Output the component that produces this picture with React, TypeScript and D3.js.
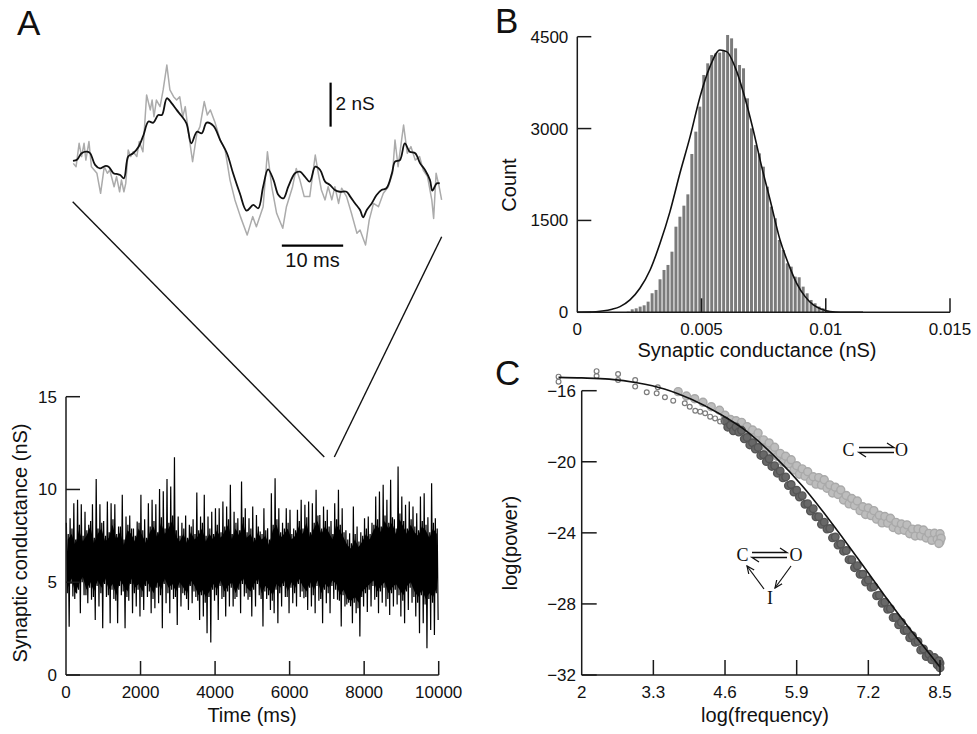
import React, { useEffect, useRef } from "react";
import * as d3 from "d3";

// ---------- Panel A inset: 60 ms of the trace (ms, nS) ----------
const insetSmoothT = [0, 0.7, 1.4, 2.3, 2.8, 3.6, 4.4, 5.2, 5.8, 6.6, 7.1, 7.7, 8.3, 9.0, 9.8, 10.7, 11.5, 12.3, 13.1, 13.9, 14.5, 15.3, 16.1, 16.9, 17.7, 18.5, 19.3, 20.2, 21.0, 21.8, 22.9, 24.0, 25.1, 26.1, 27.2, 28.3, 29.4, 30.2, 31.0, 31.8, 32.7, 33.5, 34.3, 35.1, 36.2, 37.0, 37.8, 38.6, 39.5, 40.3, 41.1, 41.9, 42.7, 43.5, 44.6, 45.2, 46.0, 46.8, 47.3, 47.9, 48.7, 49.5, 50.3, 51.1, 52.0, 52.5, 53.3, 54.1, 54.9, 55.8, 56.6, 57.4, 58.2, 58.6, 59.3, 59.8];
const insetSmoothG = [6.82, 6.89, 7.17, 7.24, 7.17, 6.64, 6.48, 6.59, 6.56, 6.26, 6.23, 6.18, 6.03, 7.02, 7.17, 7.47, 8.0, 8.61, 8.56, 8.91, 8.91, 9.67, 9.44, 9.14, 8.86, 8.53, 7.62, 8.15, 8.08, 8.56, 8.41, 7.77, 7.17, 6.26, 5.35, 4.56, 4.82, 4.67, 5.65, 6.44, 5.95, 5.27, 5.12, 5.65, 6.26, 6.33, 6.11, 5.88, 6.56, 6.41, 5.88, 5.73, 5.5, 5.42, 5.42, 5.2, 4.89, 4.59, 4.26, 4.59, 4.89, 5.27, 5.5, 5.58, 6.26, 6.79, 6.86, 7.62, 7.24, 7.17, 6.71, 6.41, 5.95, 5.47, 5.8, 5.8];
const insetRawT = [0.05, 0.5, 1.0, 1.4, 1.8, 2.1, 2.6, 3.0, 3.9, 4.5, 5.1, 5.6, 6.0, 6.7, 7.1, 7.6, 7.9, 8.3, 8.6, 9.0, 9.4, 9.8, 10.4, 10.8, 11.4, 12.0, 12.6, 12.9, 13.2, 13.6, 14.2, 14.7, 15.3, 15.8, 16.4, 16.9, 17.4, 17.9, 18.3, 18.8, 19.5, 20.2, 20.7, 21.4, 21.9, 22.4, 23.2, 24.0, 24.8, 25.6, 26.4, 27.3, 28.4, 29.3, 29.9, 31.0, 31.7, 32.4, 33.2, 34.2, 34.8, 35.8, 36.4, 37.0, 37.7, 38.6, 39.5, 40.0, 40.5, 41.1, 41.6, 42.2, 42.7, 43.3, 43.8, 44.6, 45.4, 46.3, 46.8, 47.7, 48.3, 49.0, 49.8, 50.6, 51.4, 52.1, 52.5, 53.0, 53.9, 54.5, 55.1, 55.8, 56.5, 57.1, 57.8, 58.5, 58.8, 59.2, 59.7, 60.1];
const insetRawG = [6.71, 6.56, 7.62, 7.02, 7.62, 6.86, 7.70, 6.56, 6.26, 5.35, 6.56, 6.26, 6.41, 5.65, 6.11, 5.42, 5.95, 5.42, 5.80, 7.32, 7.02, 7.24, 7.02, 7.70, 7.24, 9.82, 9.14, 9.59, 8.83, 9.59, 9.29, 10.05, 11.18, 10.05, 9.74, 9.59, 9.74, 8.83, 9.29, 8.15, 6.79, 8.08, 8.38, 9.52, 8.91, 9.14, 8.53, 7.77, 7.32, 5.95, 5.05, 4.29, 3.45, 4.29, 3.83, 4.74, 7.24, 5.65, 4.44, 3.76, 4.74, 5.65, 6.48, 5.95, 5.20, 5.20, 7.09, 6.26, 5.50, 5.05, 5.65, 5.05, 5.65, 4.89, 5.58, 5.20, 4.44, 3.53, 3.68, 3.00, 4.14, 4.89, 4.74, 5.35, 5.65, 6.26, 7.77, 6.56, 8.45, 7.17, 7.47, 6.86, 7.02, 6.41, 6.11, 5.05, 4.21, 6.26, 5.65, 5.05];

// ---------- Panel A: 10 s trace, excursions in each 100 ms bin (nS) ----------
const traceBin = 100;
const traceHi = [8.2, 8.45, 9.26, 9.44, 9.2, 8.8, 8.1, 9.2, 10.56, 9.2,
  8.3, 9.35, 9.26, 9.2, 8.0, 9.71, 8.54, 8.6, 7.9, 8.27,
  9.71, 8.4, 9.26, 9.44, 9.2, 10.02, 9.9, 10.56, 10.16, 11.74,
  8.54, 8.2, 8.6, 8.1, 8.4, 9.84, 8.54, 9.71, 8.54, 8.8,
  8.99, 8.99, 9.35, 9.08, 10.25, 8.8, 8.45, 10.43, 8.99, 8.45,
  9.08, 8.63, 7.73, 8.99, 7.91, 9.8, 10.61, 8.99, 8.2, 8.99,
  8.9, 7.9, 8.9, 9.44, 9.17, 9.35, 9.26, 9.98, 8.63, 9.08,
  8.9, 8.3, 9.26, 9.98, 8.99, 7.8, 7.64, 9.08, 8.0, 7.7,
  8.45, 8.54, 8.2, 9.62, 9.89, 10.25, 9.44, 10.52, 8.4, 11.24,
  9.62, 9.17, 9.35, 9.08, 8.72, 9.62, 9.8, 8.5, 10.34, 8.45];
const traceLo = [2.6, 4.23, 4.4, 3.33, 4.3, 3.87, 4.05, 2.97, 3.69, 2.52,
  4.2, 2.79, 4.1, 2.79, 4.3, 2.52, 4.0, 3.33, 3.69, 3.15,
  3.51, 4.2, 3.33, 3.6, 3.87, 2.52, 3.87, 3.33, 4.1, 2.7,
  3.69, 4.3, 3.51, 3.87, 4.2, 2.97, 3.15, 2.25, 1.75, 4.0,
  2.97, 4.1, 3.15, 3.69, 3.69, 4.2, 3.33, 4.23, 4.05, 3.15,
  3.69, 4.3, 2.61, 4.1, 3.51, 3.33, 2.79, 3.69, 4.2, 3.33,
  3.87, 3.69, 4.2, 4.14, 3.51, 3.69, 3.33, 4.0, 2.79, 3.87,
  3.33, 4.1, 4.05, 2.61, 3.69, 3.9, 2.79, 3.33, 2.07, 3.69,
  3.4, 3.69, 4.05, 3.33, 3.9, 3.69, 3.24, 3.69, 3.8, 3.15,
  2.79, 3.51, 3.9, 3.15, 2.25, 2.79, 1.44, 2.43, 2.16, 2.97];
// smaller excursions inside the same bins (edge of the dense band)
const traceMidHi = [7.6, 7.9, 7.3, 8.1, 7.5, 7.8, 8.3, 7.4, 7.9, 8.2,
  7.5, 7.7, 8.4, 7.6, 8.0, 7.3, 8.1, 7.9, 7.5, 8.2,
  7.8, 7.4, 8.0, 8.3, 7.7, 8.5, 7.9, 8.2, 8.6, 7.8,
  7.5, 7.9, 7.4, 8.0, 7.6, 7.8, 8.2, 7.5, 7.9, 7.6,
  8.1, 7.7, 8.0, 8.4, 7.6, 8.2, 7.8, 8.5, 7.7, 7.9,
  7.4, 8.0, 7.6, 7.8, 7.3, 8.1, 8.4, 7.7, 7.9, 8.2,
  7.6, 7.8, 8.3, 7.9, 8.5, 7.7, 8.2, 8.6, 7.9, 8.3,
  8.0, 7.6, 8.4, 8.1, 7.7, 7.3, 7.1, 7.6, 7.2, 7.5,
  7.9, 7.6, 8.1, 8.4, 8.0, 8.6, 8.2, 8.5, 7.9, 8.7,
  8.3, 7.9, 8.4, 8.0, 7.8, 8.3, 8.1, 7.7, 8.2, 7.9];
const traceMidLo = [4.4, 4.9, 4.1, 4.6, 5.0, 4.3, 4.7, 4.2, 4.8, 4.4,
  4.9, 4.3, 4.6, 4.0, 4.8, 4.5, 4.2, 4.9, 4.4, 4.6,
  4.2, 4.8, 4.5, 4.1, 4.7, 4.3, 4.9, 4.4, 4.6, 4.2,
  4.7, 4.4, 4.1, 4.8, 4.5, 4.0, 4.3, 3.9, 4.2, 4.6,
  4.3, 4.8, 4.2, 4.5, 4.7, 4.1, 4.6, 4.9, 4.4, 4.2,
  4.6, 4.9, 4.1, 4.5, 4.3, 4.0, 4.6, 4.4, 4.8, 4.2,
  4.7, 4.4, 4.9, 4.5, 4.2, 4.7, 4.3, 4.8, 4.1, 4.6,
  4.4, 4.8, 4.6, 4.0, 4.3, 3.8, 3.7, 3.9, 3.6, 4.2,
  4.4, 4.6, 4.8, 4.2, 4.5, 4.7, 4.1, 4.4, 4.6, 4.3,
  4.0, 4.5, 4.7, 4.2, 3.9, 4.3, 3.8, 4.1, 3.9, 4.4];
const timeTicks = [0, 2000, 4000, 6000, 8000, 10000];
const condTicks = [0, 5, 10, 15];

// ---------- Panel B: histogram ----------
const histStart = 0.00197;
const histWidth = 0.00016;
const histCounts = [11, 49, 65, 93, 114, 174, 311, 365, 539, 691, 773, 990, 1398, 1561, 1741, 1926, 2585, 2950, 3358, 3875, 4065, 4200, 4228, 4240, 4283, 4528, 4473,
  4310, 4038, 3984, 3494, 3004, 2731, 2595, 2378, 2051, 1725, 1535, 1181, 1017, 799, 745, 582, 572, 419, 310, 201, 147, 93, 65, 27, 11];
const gaussX = [0, 0.0005, 0.001, 0.0014, 0.00172, 0.00212, 0.00252, 0.00293, 0.00333, 0.00373, 0.00413, 0.00454, 0.00494, 0.00534, 0.00574, 0.00601, 0.0064, 0.00675, 0.00708, 0.00742, 0.00776, 0.00816, 0.00849, 0.00883, 0.00917, 0.0095, 0.00984, 0.01017, 0.0106, 0.0115];
const gaussY = [0, 3, 20, 50, 93, 202, 392, 691, 1126, 1644, 2270, 2868, 3521, 4011, 4283, 4256, 3950, 3494, 2977, 2378, 1834, 1181, 799, 473, 256, 120, 49, 11, 0, 0];
const condHistTicks = [0, 0.005, 0.01, 0.015];
const condHistLabels = ["0", "0.005", "0.01", "0.015"];
const countTicks = [0, 1500, 3000, 4500];

// ---------- Panel C: power spectra ----------
const lowFreq = [1.58, 1.58, 2.27, 2.27, 2.66, 2.66, 2.97, 2.97, 3.18, 3.36, 3.38, 3.51, 3.66, 3.87, 3.96, 4.06, 4.15, 4.24, 4.33, 4.42, 4.51];
const lowPower = [-15.21, -15.49, -14.9, -15.17, -15.06, -15.4, -15.4, -15.77, -16.09, -16.15, -15.81, -16.37, -16.56, -16.71, -16.9, -17.13, -17.18, -17.27, -17.46, -17.56, -17.74];

const coFreq = [3.75, 3.9, 4.05, 4.2, 4.35, 4.5,
  4.6, 4.65, 4.7, 4.75, 4.8, 4.85, 4.9, 4.95, 5.0, 5.05, 5.1, 5.15, 5.2, 5.25, 5.3, 5.35, 5.4, 5.45, 5.5, 5.55, 5.6, 5.65, 5.7, 5.75, 5.8, 5.85, 5.9, 5.95,
  6.0, 6.05, 6.1, 6.15, 6.2, 6.25, 6.3, 6.35, 6.4, 6.45, 6.5, 6.55, 6.6, 6.65, 6.7, 6.75, 6.8, 6.85, 6.9, 6.95,
  7.0, 7.05, 7.1, 7.15, 7.2, 7.25, 7.3, 7.35, 7.4, 7.45, 7.5, 7.55, 7.6, 7.65, 7.7, 7.75, 7.8, 7.85, 7.9, 7.95,
  8.0, 8.05, 8.1, 8.15, 8.2, 8.25, 8.3, 8.35, 8.4, 8.45, 8.5, 8.5, 8.52, 8.48];
const coPower = [-16.05, -16.3, -16.45, -16.65, -16.9, -17.1,
  -17.38, -17.85, -17.62, -18.05, -17.69, -18.06, -17.78, -18.30, -18.02, -18.49, -18.21, -18.62, -18.38, -18.94, -18.77, -19.25, -18.94, -19.42, -19.18, -19.70, -19.53, -20.01, -19.69, -20.12, -19.89, -20.46, -20.22, -20.70,
  -20.40, -20.81, -20.56, -21.07, -20.84, -21.26, -20.89, -21.31, -21.01, -21.49, -21.30, -21.76, -21.43, -21.84, -21.59, -22.15, -21.90, -22.37, -22.07, -22.47,
  -22.21, -22.75, -22.53, -22.97, -22.60, -23.03, -22.75, -23.23, -23.01, -23.44, -23.08, -23.45, -23.18, -23.70, -23.41, -23.84, -23.50, -23.85, -23.55, -24.05,
  -23.79, -24.18, -23.78, -24.17, -23.84, -24.29, -24.03, -24.42, -24.02, -24.36, -24.05, -24.5, -24.3, -24.6];

const coiFreq = [4.6, 4.65, 4.7, 4.75, 4.8, 4.85, 4.9, 4.95, 5.0, 5.05, 5.1, 5.15, 5.2, 5.25, 5.3, 5.35, 5.4, 5.45, 5.5, 5.55, 5.6, 5.65, 5.7, 5.75, 5.8, 5.85, 5.9, 5.95,
  6.0, 6.05, 6.1, 6.15, 6.2, 6.25, 6.3, 6.35, 6.4, 6.45, 6.5, 6.55, 6.6, 6.65, 6.7, 6.75, 6.8, 6.85, 6.9, 6.95,
  7.0, 7.05, 7.1, 7.15, 7.2, 7.25, 7.3, 7.35, 7.4, 7.45, 7.5, 7.55, 7.6, 7.65, 7.7, 7.75, 7.8, 7.85, 7.9, 7.95,
  8.0, 8.05, 8.1, 8.15, 8.2, 8.25, 8.3, 8.35, 8.4, 8.45, 8.5, 8.5, 8.48];
const coiPower = [-17.70, -18.05, -17.94, -18.26, -18.04, -18.33, -18.23, -18.71, -18.63, -19.05, -18.93, -19.28, -19.19, -19.64, -19.60, -19.99, -19.83, -20.26, -20.22, -20.64, -20.52, -20.90, -20.85, -21.34, -21.28, -21.70, -21.60, -21.98,
  -21.91, -22.39, -22.36, -22.77, -22.64, -23.10, -23.09, -23.52, -23.40, -23.79, -23.76, -24.28, -24.24, -24.69, -24.63, -25.03, -25.00, -25.51, -25.52, -25.96,
  -25.85, -26.33, -26.33, -26.77, -26.66, -27.06, -27.03, -27.54, -27.51, -27.96, -27.90, -28.30, -28.27, -28.77, -28.76, -29.17, -29.04, -29.50, -29.48, -29.91,
  -29.79, -30.16, -30.11, -30.60, -30.53, -30.96, -30.83, -31.14, -31.02, -31.43, -31.34, -31.6, -31.2];

const specFitFreq = [1.58, 2, 2.5, 3, 3.5, 4, 4.5, 5, 5.5, 6, 6.5, 7, 7.5, 8, 8.5];
const specFitPower = [-15.25, -15.28, -15.35, -15.55, -15.9, -16.5, -17.3, -18.3, -19.7, -21.35, -23.3, -25.4, -27.55, -29.6, -31.55];
const freqTicks = [2, 3.3, 4.6, 5.9, 7.2, 8.5];
const powerTicks = [-16, -20, -24, -28, -32];

const SANS = "'Liberation Sans', Arial, sans-serif";
const SERIF = "'Liberation Serif', 'Times New Roman', serif";

function App() {
  const ref = useRef<SVGSVGElement | null>(null);

  useEffect(() => {
    const svg = d3.select(ref.current);
    svg.selectAll("*").remove();
    const AX = "#1a1a1a";

    const label = (x: number, y: number, txt: string, size: number, anchor = "middle", rotate = false) => {
      const t = svg.append("text")
        .attr("x", x).attr("y", y)
        .attr("text-anchor", anchor)
        .style("font-family", SANS)
        .style("font-size", size + "px")
        .attr("fill", "#111")
        .text(txt);
      if (rotate) t.attr("transform", `rotate(-90,${x},${y})`);
      return t;
    };

    // ================= Panel A =================
    const xA = d3.scaleLinear().domain([0, 10000]).range([66, 438.7]);
    const yA = d3.scaleLinear().domain([0, 15]).range([675, 396.7]);

    // solid band between the smaller excursions of each bin
    svg.append("path")
      .attr("d", d3.area<number>()
        .x((d, i) => xA(i * traceBin + 50))
        .y0((d, i) => yA(traceMidLo[i] + 0.3))
        .y1((d) => yA(d - 0.3))(traceMidHi) as string)
      .attr("fill", "#000");

    // four excursions per bin: big up, small down, small up, big down
    const zig: [number, number][] = [];
    traceHi.forEach((h, i) => {
      const t0 = i * traceBin;
      zig.push([t0 + 10, h]);
      zig.push([t0 + 35, traceMidLo[i]]);
      zig.push([t0 + 60, traceMidHi[i]]);
      zig.push([t0 + 85, traceLo[i]]);
    });
    svg.append("path")
      .attr("d", d3.line<[number, number]>().x(d => xA(d[0])).y(d => yA(d[1]))(zig) as string)
      .attr("fill", "none").attr("stroke", "#000").attr("stroke-width", 1.2);

    // axes
    svg.append("line").attr("x1", 66).attr("x2", 66).attr("y1", yA(15)).attr("y2", yA(0)).attr("stroke", AX).attr("stroke-width", 1.5);
    svg.append("line").attr("x1", 66).attr("x2", xA(10000)).attr("y1", yA(0)).attr("y2", yA(0)).attr("stroke", AX).attr("stroke-width", 1.5);
    condTicks.forEach(v => {
      svg.append("line").attr("x1", 66).attr("x2", 80).attr("y1", yA(v)).attr("y2", yA(v)).attr("stroke", AX).attr("stroke-width", 1.5);
      label(57, yA(v) + 6, String(v), 17, "end");
    });
    timeTicks.forEach(v => {
      if (v > 0) svg.append("line").attr("x1", xA(v)).attr("x2", xA(v)).attr("y1", yA(0)).attr("y2", yA(0) - 14).attr("stroke", AX).attr("stroke-width", 1.5);
      label(xA(v), 698, String(v), 17);
    });
    label(252, 722, "Time (ms)", 20);
    label(27, 543, "Synaptic conductance (nS)", 20, "middle", true);

    // inset
    const xI = d3.scaleLinear().domain([0, 60]).range([73, 441]);
    const yI = d3.scaleLinear().domain([3, 5]).range([245, 201]);
    svg.append("path")
      .attr("d", d3.line<number>().x((d, i) => xI(insetRawT[i])).y(d => yI(d))(insetRawG) as string)
      .attr("fill", "none").attr("stroke", "#ababab").attr("stroke-width", 1.5).attr("stroke-linejoin", "round");
    svg.append("path")
      .attr("d", d3.line<number>().x((d, i) => xI(insetSmoothT[i])).y(d => yI(d)).curve(d3.curveCatmullRom)(insetSmoothG) as string)
      .attr("fill", "none").attr("stroke", "#111").attr("stroke-width", 1.8).attr("stroke-linejoin", "round");

    // scale bars
    svg.append("line").attr("x1", xI(42)).attr("x2", xI(42)).attr("y1", yI(8.38)).attr("y2", yI(10.38)).attr("stroke", "#000").attr("stroke-width", 2.2);
    label(xI(42) + 5, 110, "2 nS", 19, "start");
    svg.append("line").attr("x1", xI(34.05)).attr("x2", xI(44.05)).attr("y1", yI(2.97)).attr("y2", yI(2.97)).attr("stroke", "#000").attr("stroke-width", 2.2);
    label(xI(39.05), 267, "10 ms", 20);

    // connector lines (inset -> trace)
    svg.append("line").attr("x1", 72.7).attr("y1", 201.7).attr("x2", xA(6930)).attr("y2", yA(11.75)).attr("stroke", "#111").attr("stroke-width", 1.4);
    svg.append("line").attr("x1", 441.7).attr("y1", 236.7).attr("x2", xA(7200)).attr("y2", yA(11.75)).attr("stroke", "#111").attr("stroke-width", 1.4);

    // ================= Panel B =================
    const xB = d3.scaleLinear().domain([0, 0.015]).range([577.3, 950]);
    const yB = d3.scaleLinear().domain([0, 4500]).range([312.3, 36.7]);
    const bw = xB(histWidth) - xB(0);
    svg.append("g").selectAll("rect").data(histCounts).enter().append("rect")
      .attr("x", (d, i) => xB(histStart + i * histWidth) + 0.5)
      .attr("width", bw - 1)
      .attr("y", d => yB(d))
      .attr("height", d => yB(0) - yB(d))
      .attr("fill", "#7b7b7b");
    svg.append("path")
      .attr("d", d3.line<number>().x((d, i) => xB(gaussX[i])).y(d => yB(d)).curve(d3.curveMonotoneX)(gaussY) as string)
      .attr("fill", "none").attr("stroke", "#111").attr("stroke-width", 1.6);

    svg.append("line").attr("x1", xB(0)).attr("x2", xB(0)).attr("y1", yB(4500)).attr("y2", yB(0)).attr("stroke", AX).attr("stroke-width", 1.5);
    svg.append("line").attr("x1", xB(0)).attr("x2", xB(0.015)).attr("y1", yB(0)).attr("y2", yB(0)).attr("stroke", AX).attr("stroke-width", 1.5);
    countTicks.forEach(v => {
      svg.append("line").attr("x1", xB(0)).attr("x2", xB(0) + 14).attr("y1", yB(v)).attr("y2", yB(v)).attr("stroke", AX).attr("stroke-width", 1.5);
      label(568.3, yB(v) + 6, String(v), 17, "end");
    });
    condHistTicks.forEach((v, i) => {
      if (v > 0) svg.append("line").attr("x1", xB(v)).attr("x2", xB(v)).attr("y1", yB(0)).attr("y2", yB(0) - 14).attr("stroke", AX).attr("stroke-width", 1.5);
      label(xB(v), 335, condHistLabels[i], 17);
    });
    label(757, 357, "Synaptic conductance (nS)", 20);
    label(516, 185, "Count", 20, "middle", true);

    // ================= Panel C =================
    const xC = d3.scaleLinear().domain([2, 8.5]).range([581.7, 940]);
    const yC = d3.scaleLinear().domain([-16, -32]).range([390.7, 675]);

    svg.append("g").selectAll("circle").data(coPower).enter().append("circle")
      .attr("cx", (d, i) => xC(coFreq[i])).attr("cy", d => yC(d)).attr("r", 4.0)
      .attr("fill", "#bdbdbd").attr("stroke", "#a9a9a9").attr("stroke-width", 1.4);
    svg.append("g").selectAll("circle").data(coiPower).enter().append("circle")
      .attr("cx", (d, i) => xC(coiFreq[i])).attr("cy", d => yC(d)).attr("r", 3.8)
      .attr("fill", "#686868").attr("stroke", "#555", ).attr("stroke-width", 1.4);
    svg.append("g").selectAll("circle").data(lowPower).enter().append("circle")
      .attr("cx", (d, i) => xC(lowFreq[i])).attr("cy", d => yC(d)).attr("r", 2.4)
      .attr("fill", "none").attr("stroke", "#7c7c7c").attr("stroke-width", 1.2);
    svg.append("path")
      .attr("d", d3.line<number>().x((d, i) => xC(specFitFreq[i])).y(d => yC(d)).curve(d3.curveMonotoneX)(specFitPower) as string)
      .attr("fill", "none").attr("stroke", "#111").attr("stroke-width", 1.6);

    svg.append("line").attr("x1", xC(2)).attr("x2", xC(2)).attr("y1", yC(-16)).attr("y2", yC(-32)).attr("stroke", AX).attr("stroke-width", 1.5);
    svg.append("line").attr("x1", xC(2)).attr("x2", xC(8.5)).attr("y1", yC(-32)).attr("y2", yC(-32)).attr("stroke", AX).attr("stroke-width", 1.5);
    powerTicks.forEach(v => {
      svg.append("line").attr("x1", xC(2)).attr("x2", xC(2) + 15).attr("y1", yC(v)).attr("y2", yC(v)).attr("stroke", AX).attr("stroke-width", 1.5);
      label(576, yC(v) + 6, String(v).replace("-", "\u2212"), 17, "end");
    });
    freqTicks.forEach(v => {
      if (v > 2) svg.append("line").attr("x1", xC(v)).attr("x2", xC(v)).attr("y1", yC(-32)).attr("y2", yC(-32) - 15).attr("stroke", AX).attr("stroke-width", 1.5);
      label(xC(v), 698, String(v), 17);
    });
    label(765, 722, "log(frequency)", 20);
    label(517, 543, "log(power)", 20, "middle", true);

    // kinetic schemes
    const serif = (x: number, y: number, txt: string) =>
      svg.append("text").attr("x", x).attr("y", y).attr("text-anchor", "middle")
        .style("font-family", SERIF).style("font-size", "18px").attr("fill", "#111").text(txt);
    const harpoons = (x1: number, x2: number, ym: number) => {
      const p = `M${x1},${ym - 2.5}H${x2}l-7,-4.5 M${x2},${ym + 2.5}H${x1}l7,4.5`;
      svg.append("path").attr("d", p).attr("fill", "none").attr("stroke", "#111").attr("stroke-width", 1.3);
    };
    serif(848.5, 456, "C");
    harpoons(859, 894, 450);
    serif(901.5, 456, "O");

    serif(742.5, 561, "C");
    harpoons(752, 787, 555);
    serif(796, 561, "O");
    serif(770, 604, "I");
    svg.append("defs").append("marker")
      .attr("id", "ah").attr("viewBox", "0 0 10 10").attr("refX", 9).attr("refY", 5)
      .attr("markerWidth", 7).attr("markerHeight", 7).attr("orient", "auto")
      .append("path").attr("d", "M0,1 L9,5 L0,9").attr("fill", "none").attr("stroke", "#111").attr("stroke-width", 1.4);
    svg.append("line").attr("x1", 764).attr("y1", 589).attr("x2", 747).attr("y2", 566)
      .attr("stroke", "#111").attr("stroke-width", 1.2).attr("marker-end", "url(#ah)");
    svg.append("line").attr("x1", 791).attr("y1", 566).attr("x2", 775).attr("y2", 588)
      .attr("stroke", "#111").attr("stroke-width", 1.2).attr("marker-end", "url(#ah)");

    // panel letters
    label(17, 35, "A", 35, "start");
    label(495, 33, "B", 35, "start");
    label(495, 385, "C", 35, "start");
  }, []);

  return (
    <svg ref={ref} width={977} height={734}
      style={{ position: "absolute", left: 0, top: 0, background: "#fff" }} />
  );
}

export default App;
